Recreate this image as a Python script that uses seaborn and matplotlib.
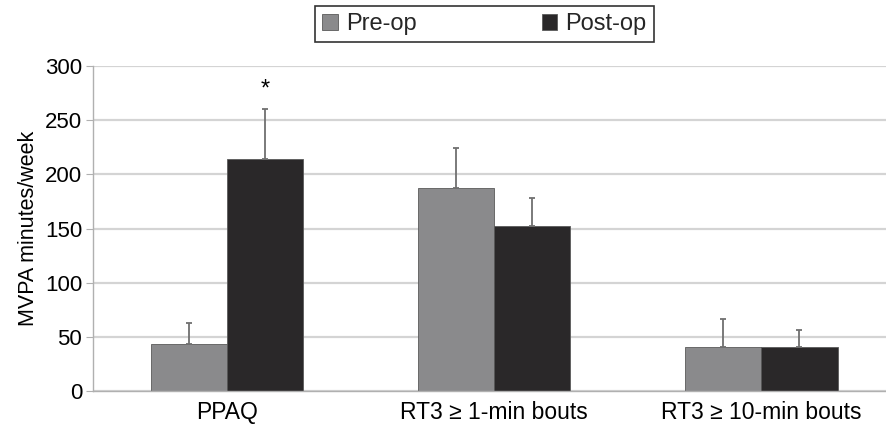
import matplotlib
matplotlib.use("Agg")
import matplotlib.pyplot as plt
import seaborn as sns
import pandas as pd
from matplotlib.patches import Patch

categories = ["PPAQ", "RT3 \u2265 1-min bouts", "RT3 \u2265 10-min bouts"]
groups = ["Pre-op", "Post-op"]
pre_values = [43, 187, 41]
post_values = [214, 152, 41]
pre_err = [20, 37, 25]
post_err = [46, 26, 15]
yticks = [0, 50, 100, 150, 200, 250, 300]

df = pd.DataFrame({
    "cat": categories * 2,
    "group": [groups[0]] * 3 + [groups[1]] * 3,
    "val": pre_values + post_values,
    "err": pre_err + post_err,
})

sns.set_theme(style="white")
plt.rcParams["font.family"] = ["Liberation Sans", "DejaVu Sans"]

fig = plt.figure(figsize=(8.87, 4.24), dpi=100)
ax = fig.add_axes([0.105, 0.078, 0.895, 0.766])

colors = {"Pre-op": "#8a8a8c", "Post-op": "#2a2829"}
sns.barplot(data=df, x="cat", y="val", hue="group", palette=colors,
            width=0.57, gap=0, errorbar=None, ax=ax, legend=False,
            edgecolor="#5a5a5a", linewidth=0.6, saturation=1)

# error bars (upper only)
for cont, errs in zip(ax.containers, [pre_err, post_err]):
    for bar, e in zip(cont, errs):
        xc = bar.get_x() + bar.get_width() / 2
        h = bar.get_height()
        ax.errorbar(xc, h, yerr=[[0], [e]], fmt="none", ecolor="#707070",
                    elinewidth=1.3, capsize=2.5, capthick=1.3, zorder=3)

# asterisk
post_bar = ax.containers[1][0]
ax.text(post_bar.get_x() + post_bar.get_width() / 2, 268, "*",
        ha="center", va="bottom", fontsize=17, color="black")

ax.set_ylim(0, 300)
ax.set_xlim(-0.5, 2.47)
ax.set_yticks(yticks)
ax.set_yticklabels([str(t) for t in yticks], fontsize=16, color="black")
ax.tick_params(axis="x", labelsize=16.5, colors="black", length=0, pad=7)
ax.tick_params(axis="y", left=True, length=5, width=0.8, color="#b0b0b0",
               pad=3)
ax.set_xlabel("")
ax.set_ylabel("MVPA minutes/week", fontsize=15.5, color="black", labelpad=4)
ax.yaxis.grid(True, color="#d4d4d4", linewidth=1.6)
ax.set_axisbelow(True)
for s in ["top", "right"]:
    ax.spines[s].set_visible(False)
for s in ["left", "bottom"]:
    ax.spines[s].set_color("#b0b0b0")
    ax.spines[s].set_linewidth(1.0)

handles = [Patch(facecolor=colors[g], edgecolor="#5a5a5a", linewidth=0.6) for g in groups]
leg = fig.legend(handles, groups, loc="center", bbox_to_anchor=(484.5 / 887, 1 - 24 / 424),
                 ncol=2, frameon=True, fontsize=17, columnspacing=5.3,
                 handlelength=0.65, handleheight=0.65, handletextpad=0.35,
                 borderpad=0.3, borderaxespad=0, fancybox=False, edgecolor="black")
leg.get_frame().set_linewidth(1.2)

fig.savefig("out.png", dpi=100)
